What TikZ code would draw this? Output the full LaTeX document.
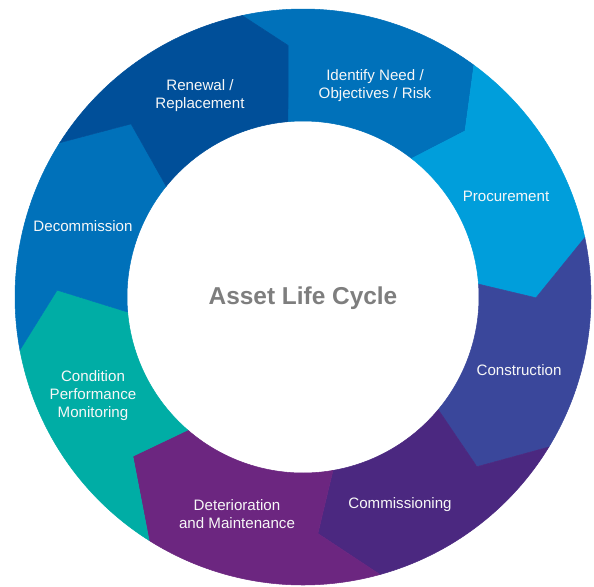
\documentclass[tikz,border=0pt]{standalone}
\usepackage{fontspec}
\setmainfont{Liberation Sans}
\usepackage{tikz}

\definecolor{identifyblue}{HTML}{0071BA}
\definecolor{procureblue}{HTML}{009EDB}
\definecolor{constructblue}{HTML}{3A479B}
\definecolor{commissionpurple}{HTML}{4B2880}
\definecolor{deteriorpurple}{HTML}{6C2680}
\definecolor{conditionteal}{HTML}{00ADA5}
\definecolor{decommblue}{HTML}{0071BA}
\definecolor{renewalblue}{HTML}{004F99}
\definecolor{titlegray}{HTML}{7E7E7E}

\tikzset{
	stage/.style={text=white!94!gray, align=center, inner sep=0pt, font=\fontsize{8.6}{10.2}\selectfont},
	segment/.style={fill=#1, draw=#1, line width=0.3pt}
}

\begin{document}
\begin{tikzpicture}[x=0.02cm, y=0.02cm]
		\useasboundingbox (-303,-289) rectangle (291,297);
		% ring segments, clockwise from the top
		\filldraw[segment=identifyblue] (102.2:288) arc[start angle=102.2, end angle=53.6, radius=288] -- (45.7:232) -- (51.9:176) arc[start angle=51.9, end angle=94.9, radius=176] -- (93.4:252) -- cycle;
		\filldraw[segment=procureblue] (53.6:288) arc[start angle=53.6, end angle=11.9, radius=288] -- (-0.2:233) -- (4.2:176) arc[start angle=4.2, end angle=51.9, radius=176] -- (45.7:232) -- cycle;
		\filldraw[segment=constructblue] (11.9:288) arc[start angle=11.9, end angle=-31.4, radius=288] -- (-44.3:243) -- (-39.8:176) arc[start angle=-39.8, end angle=4.2, radius=176] -- (-0.2:233) -- cycle;
		\filldraw[segment=commissionpurple] (-31.4:288) arc[start angle=-31.4, end angle=-74.5, radius=288] -- (-86.4:237) -- (-80.2:176) arc[start angle=-80.2, end angle=-39.8, radius=176] -- (-44.3:243) -- cycle;
		\filldraw[segment=deteriorpurple] (-74.5:288) arc[start angle=-74.5, end angle=-122.3, radius=288] -- (-136.9:233) -- (-130.9:176) arc[start angle=-130.9, end angle=-80.2, radius=176] -- (-86.4:237) -- cycle;
		\filldraw[segment=conditionteal] (-122.3:288) arc[start angle=-122.3, end angle=-169.4, radius=288] -- (-181.6:246) -- (-175.1:176) arc[start angle=-175.1, end angle=-130.9, radius=176] -- (-136.9:233) -- cycle;
		\filldraw[segment=decommblue] (-169.4:288) arc[start angle=-169.4, end angle=-212.4, radius=288] -- (-225.2:244) -- (-219:176) arc[start angle=-219, end angle=-175.1, radius=176] -- (-181.6:246) -- cycle;
		\filldraw[segment=renewalblue] (-212.4:288) arc[start angle=-212.4, end angle=-257.8, radius=288] -- (-266.6:252) -- (-265.1:176) arc[start angle=-265.1, end angle=-219, radius=176] -- (-225.2:244) -- cycle;

		\node[stage] (identify) at (72,211) {Identify Need /\\Objectives / Risk};
		\node[stage] (procurement) at (203,101) {Procurement};
		\node[stage] (construction) at (216,-73) {Construction};
		\node[stage] (commissioning) at (97,-208) {Commissioning};
		\node[stage] (deterioration) at (-66,-217) {Deterioration\\and Maintenance};
		\node[stage] (condition) at (-210,-99) {Condition\\Performance\\Monitoring};
		\node[stage] (decommission) at (-220,71) {Decommission};
		\node[stage] (renewal) at (-103,201) {Renewal /\\Replacement};
		\node[text=titlegray, font=\fontsize{13.9}{16}\selectfont\bfseries] (title) at (0,-1) {Asset Life Cycle};
		\end{tikzpicture}
\end{document}
